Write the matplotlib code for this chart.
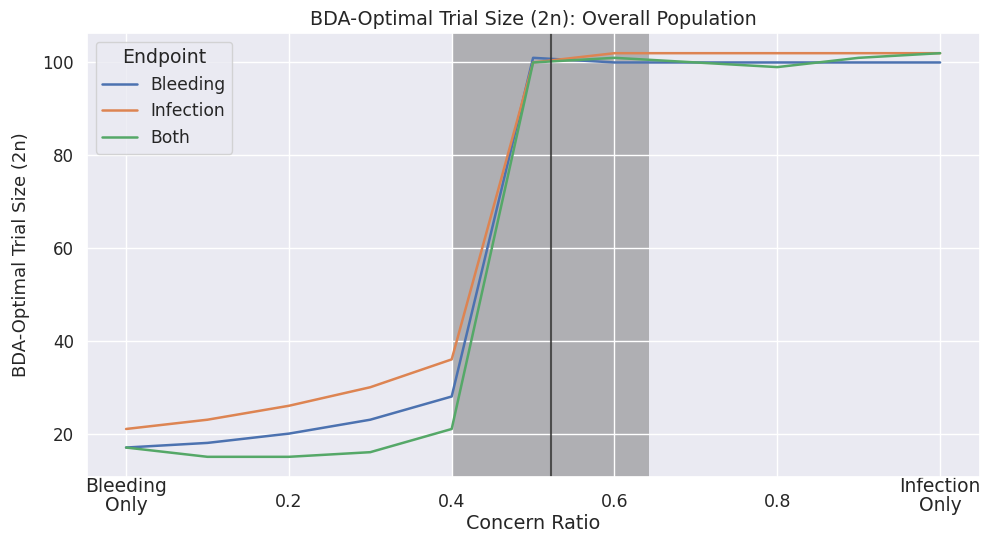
import matplotlib
matplotlib.use("Agg")
import matplotlib.pyplot as plt
import matplotlib.transforms as mtrans
import seaborn as sns

ratio = [0.0, 0.1, 0.2, 0.3, 0.4, 0.5, 0.6, 0.7, 0.8, 0.9, 1.0]
bleeding = [17, 18, 20, 23, 28, 101, 100, 100, 100, 100, 100]
infection = [21, 23, 26, 30, 36, 100, 102, 102, 102, 102, 102]
both = [17, 15, 15, 16, 21, 100, 101, 100, 99, 101, 102]
series_names = ["Bleeding", "Infection", "Both"]
tick_pos = [0.0, 0.2, 0.4, 0.6, 0.8, 1.0]
tick_labels = ["Bleeding\nOnly", "0.2", "0.4", "0.6", "0.8", "Infection\nOnly"]
band = (0.4, 0.6425)
marker_line = 0.522

sns.set_theme(style="darkgrid")
fig = plt.figure(figsize=(9.81, 5.37), dpi=100)
ax = fig.add_axes([87/981, 60/537, 893/981, 444/537])

pal = sns.color_palette()
for vals, name, c in zip([bleeding, infection, both], series_names, pal):
    ax.plot(ratio, vals, color=c, lw=1.8, label=name)

ax.axvspan(band[0], band[1], color="gray", alpha=0.55, lw=0, zorder=0.5)
ax.axvline(marker_line, color="#333333", lw=1.5, alpha=0.8)

ax.set_xlim(-0.048, 1.049)
ax.set_xticks(tick_pos)
ax.set_xticklabels(tick_labels, fontsize=12.5)
for lbl in ax.get_xticklabels():
    if "\n" in lbl.get_text():
        lbl.set_fontsize(13.5)
        lbl.set_linespacing(1.0)
        dy = 13 / 100 * 72
    else:
        dy = -3 / 100 * 72
    lbl.set_transform(lbl.get_transform() +
                      mtrans.ScaledTranslation(0, dy / 72, fig.dpi_scale_trans))
ax.tick_params(axis="y", labelsize=12)
ax.set_yticks([20, 40, 60, 80, 100])
ax.set_xlabel("Concern Ratio", fontsize=13.8)
ax.xaxis.set_label_coords(0.5, -0.083)
ax.set_ylabel("BDA-Optimal Trial Size (2n)", fontsize=13, labelpad=9)
ax.set_title("BDA-Optimal Trial Size (2n): Overall Population", fontsize=13.8)
ax.legend(title="Endpoint", loc="upper left", fontsize=12.3, title_fontsize=13.6)

fig.savefig("out.png", dpi=100)
